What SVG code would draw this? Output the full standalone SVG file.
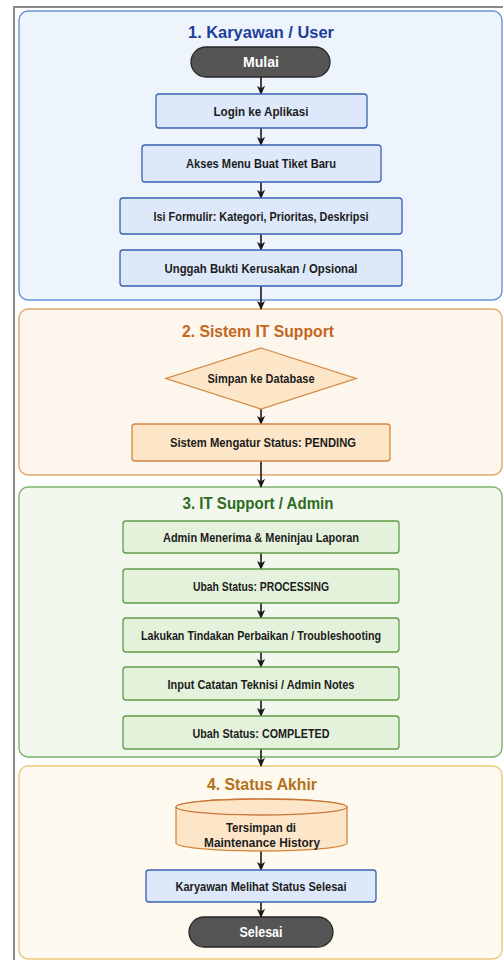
<svg xmlns="http://www.w3.org/2000/svg" width="503" height="960" viewBox="0 0 503 960">
<defs>
<marker id="ah" viewBox="0 0 10 10" refX="9" refY="5" markerWidth="9" markerHeight="9" markerUnits="userSpaceOnUse" orient="auto">
<path d="M0,0.5 L10,5 L0,9.5 L2.5,5 Z" fill="#1a1a1a"/>
</marker>
</defs>
<style>
.sec{stroke-width:1.4}
.t{font-family:"Liberation Sans",Arial,sans-serif;font-size:17px;font-weight:bold;text-anchor:middle}
.l{font-family:"Liberation Sans Narrow","Liberation Sans",Arial,sans-serif;font-size:13px;font-weight:bold;text-anchor:middle;fill:#1c1c1c}
.w{font-family:"Liberation Sans",Arial,sans-serif;font-size:14px;font-weight:bold;text-anchor:middle;fill:#ffffff}
.blue{fill:#dde9fa;stroke:#3a62b0;stroke-width:1.3}
.org{fill:#fde6c8;stroke:#d4873f;stroke-width:1.3}
.grn{fill:#e4f2db;stroke:#5f9a48;stroke-width:1.3}
.pill{fill:#555555;stroke:#262626;stroke-width:1.3}
.c{fill:none;stroke:#1a1a1a;stroke-width:1.6;marker-end:url(#ah)}
</style>
<rect x="0" y="0" width="503" height="960" fill="#ffffff"/>
<rect x="14" y="7" width="500" height="960" fill="#ffffff" stroke="#8a8a8a" stroke-width="2"/>

<g id="section1">
<rect class="sec" x="19" y="11" width="483" height="289" rx="9" fill="#eef4fc" stroke="#6a92d6"/>
<text class="t" x="261" y="38" fill="#1d3f99" textLength="146" lengthAdjust="spacingAndGlyphs">1. Karyawan / User</text>
</g>
<g id="section2">
<rect class="sec" x="19" y="309" width="483" height="166" rx="9" fill="#fdf6ec" stroke="#e3a868"/>
<text class="t" x="258" y="337" fill="#c3661f" textLength="152" lengthAdjust="spacingAndGlyphs">2. Sistem IT Support</text>
</g>
<g id="section3">
<rect class="sec" x="19" y="487" width="483" height="270" rx="9" fill="#f2f8ee" stroke="#7fb36a"/>
<text class="t" x="258" y="509" fill="#2e6b1e" textLength="151" lengthAdjust="spacingAndGlyphs">3. IT Support / Admin</text>
</g>
<g id="section4">
<rect class="sec" x="19" y="766" width="483" height="193" rx="9" fill="#fefaf0" stroke="#eec77a"/>
<text class="t" x="262" y="790" fill="#b5701a" textLength="110" lengthAdjust="spacingAndGlyphs">4. Status Akhir</text>
</g>

<g id="connectors">
<line class="c" x1="261" y1="77" x2="261" y2="94"/>
<line class="c" x1="261" y1="128" x2="261" y2="145"/>
<line class="c" x1="261" y1="182" x2="261" y2="198"/>
<line class="c" x1="261" y1="234" x2="261" y2="250"/>
<line class="c" x1="261" y1="286" x2="261" y2="309"/>
<line class="c" x1="261" y1="409" x2="261" y2="424"/>
<line class="c" x1="261" y1="461" x2="261" y2="487"/>
<line class="c" x1="261" y1="553" x2="261" y2="569"/>
<line class="c" x1="261" y1="603" x2="261" y2="618"/>
<line class="c" x1="261" y1="652" x2="261" y2="667"/>
<line class="c" x1="261" y1="700" x2="261" y2="716"/>
<line class="c" x1="261" y1="749" x2="261" y2="766"/>
<line class="c" x1="261" y1="851" x2="261" y2="870"/>
<line class="c" x1="261" y1="902" x2="261" y2="917"/>
</g>

<g id="mulai">
<rect class="pill" x="191" y="47" width="139" height="30" rx="15"/>
<text class="w" x="261" y="67" textLength="36" lengthAdjust="spacingAndGlyphs">Mulai</text>
</g>
<g id="login">
<rect class="blue" x="156" y="94" width="211" height="34" rx="3"/>
<text class="l" x="261" y="116" textLength="95" lengthAdjust="spacingAndGlyphs">Login ke Aplikasi</text>
</g>
<g id="akses">
<rect class="blue" x="142" y="145" width="239" height="37" rx="3"/>
<text class="l" x="261" y="168" textLength="150" lengthAdjust="spacingAndGlyphs">Akses Menu Buat Tiket Baru</text>
</g>
<g id="isi">
<rect class="blue" x="120" y="198" width="282" height="36" rx="3"/>
<text class="l" x="261" y="221" textLength="215" lengthAdjust="spacingAndGlyphs">Isi Formulir: Kategori, Prioritas, Deskripsi</text>
</g>
<g id="unggah">
<rect class="blue" x="120" y="250" width="282" height="36" rx="3"/>
<text class="l" x="261" y="273" textLength="193" lengthAdjust="spacingAndGlyphs">Unggah Bukti Kerusakan / Opsional</text>
</g>

<g id="simpan">
<polygon class="org" points="261,348 356,378.5 261,409 166,378.5"/>
<text class="l" x="261" y="383" textLength="107" lengthAdjust="spacingAndGlyphs">Simpan ke Database</text>
</g>
<g id="pending">
<rect class="org" x="132" y="424" width="258" height="37" rx="3"/>
<text class="l" x="263" y="447" textLength="186" lengthAdjust="spacingAndGlyphs">Sistem Mengatur Status: PENDING</text>
</g>

<g id="terima">
<rect class="grn" x="123" y="521" width="276" height="32" rx="3"/>
<text class="l" x="261" y="542" textLength="196" lengthAdjust="spacingAndGlyphs">Admin Menerima &amp; Meninjau Laporan</text>
</g>
<g id="processing">
<rect class="grn" x="123" y="569" width="276" height="34" rx="3"/>
<text class="l" x="261" y="591" textLength="136" lengthAdjust="spacingAndGlyphs">Ubah Status: PROCESSING</text>
</g>
<g id="tindakan">
<rect class="grn" x="123" y="618" width="276" height="34" rx="3"/>
<text class="l" x="261" y="640" textLength="240" lengthAdjust="spacingAndGlyphs">Lakukan Tindakan Perbaikan / Troubleshooting</text>
</g>
<g id="catatan">
<rect class="grn" x="123" y="667" width="276" height="33" rx="3"/>
<text class="l" x="261" y="688.5" textLength="187" lengthAdjust="spacingAndGlyphs">Input Catatan Teknisi / Admin Notes</text>
</g>
<g id="completed">
<rect class="grn" x="123" y="716" width="276" height="33" rx="3"/>
<text class="l" x="261" y="737.5" textLength="137" lengthAdjust="spacingAndGlyphs">Ubah Status: COMPLETED</text>
</g>

<g id="history">
<path class="org" d="M176,807 A85.5,8 0 0 1 347,807 V843 A85.5,8 0 0 1 176,843 Z" stroke="#c8783a"/>
<ellipse cx="261.5" cy="807" rx="85.5" ry="8" fill="#fde6c8" stroke="#c8783a" stroke-width="1.3"/>
<text class="l" x="261" y="832" textLength="70" lengthAdjust="spacingAndGlyphs">Tersimpan di</text>
<text class="l" x="262" y="846.5" textLength="116" lengthAdjust="spacingAndGlyphs">Maintenance History</text>
</g>
<g id="melihat">
<rect class="blue" x="146" y="870" width="230" height="32" rx="3"/>
<text class="l" x="261" y="890.5" textLength="171" lengthAdjust="spacingAndGlyphs">Karyawan Melihat Status Selesai</text>
</g>
<g id="selesai">
<rect class="pill" x="189" y="917" width="144" height="30" rx="15"/>
<text class="w" x="261" y="937" textLength="43" lengthAdjust="spacingAndGlyphs">Selesai</text>
</g>
</svg>
